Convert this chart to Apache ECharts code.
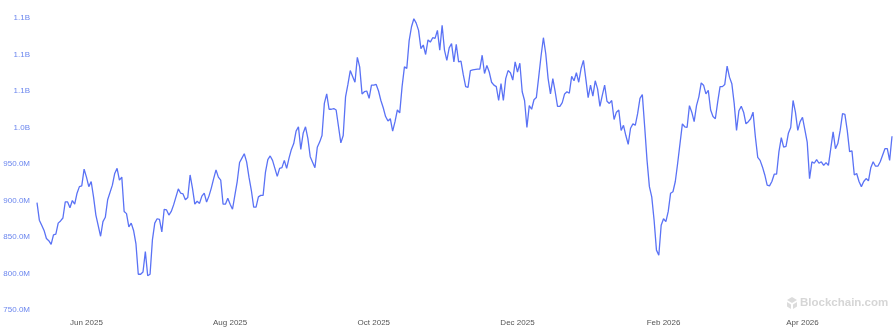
<!DOCTYPE html>
<html>
<head>
<meta charset="utf-8">
<script src="https://cdn.jsdelivr.net/npm/echarts@6/dist/echarts.min.js"></script>
<style>
html,body{margin:0;padding:0;background:#fff;}
#chart{width:896px;height:329px;}
</style>
</head>
<body>
<div id="chart"></div>
<script>
// Day offsets from the start date, and values in millions
const startDate = '2025-05-11';
const days = [0,1,2,3,4,5,6,7,8,9,10,11,12,13,14,15,16,17,18,19,20,21,22,23,24,25,27,28,29,30,32,33,34,35,36,37,38,39,40,41,42,43,44,45,46,47,48,49,50,51,52,53,54,55,56,57,58,60,61,62,63,64,65,66,67,68,69,70,71,72,73,74,75,76,77,78,79,80,81,82,83,84,85,86,87,88,89,90,91,92,93,94,95,96,97,98,99,100,102,103,104,105,106,107,108,109,110,111,112,113,114,115,116,118,119,120,121,122,123,124,125,126,127,129,130,131,132,133,134,135,136,137,138,139,140,141,142,143,144,145,146,147,148,149,150,151,152,153,154,155,156,157,158,159,160,161,162,163,164,165,166,167,168,169,170,171,172,173,174,175,176,177,178,179,180,181,182,183,184,185,187,188,189,190,191,192,193,194,195,196,197,198,199,200,201,202,203,204,205,206,207,208,209,210,211,212,213,214,215,216,217,218,219,220,221,222,223,224,225,226,227,228,229,230,231,232,233,234,235,236,237,238,239,240,241,242,243,244,245,246,247,248,249,250,251,252,253,254,255,256,257,258,259,260,261,262,263,264,265,266,267,268,269,270,271,272,274,275,276,277,278,279,280,281,282,283,284,285,286,287,288,289,290,291,292,293,294,295,296,297,298,299,300,301,302,303,304,305,306,307,308,309,310,311,312,313,314,315,316,317,318,319,320,321,322,323,324,325,326,327,328,329,330,331,332,333,334,335,336,337,338,339,340,341,342,343,344,345,346,347,348,349,350,351,352,353,354,355,356,357,358,359,360,361,362,363];
const values = [897,873,866,859,848,845,840,853,854,869,872,876,898,898,890,900,895,910,919,920,943,932,919,926,905,880,851,871,877,901,921,937,944,928,932,885,882,864,869,859,841,799,799,802,830,797,799,846,869,875,874,857,888,887,880,885,894,916,910,909,901,904,935,917,895,899,896,906,910,898,906,917,930,942,932,928,895,895,903,895,888,907,926,952,958,964,953,932,914,891,891,905,907,907,939,956,961,955,933,944,945,955,944,958,970,978,995,1001,970,992,1001,985,960,945,973,980,989,1033,1046,1025,1025,1026,1024,979,989,1042,1059,1078,1070,1062,1096,1083,1046,1049,1050,1040,1058,1058,1059,1050,1037,1027,1015,1009,1012,995,1008,1024,1020,1056,1083,1081,1119,1138,1149,1143,1133,1108,1113,1100,1120,1117,1123,1122,1133,1106,1140,1106,1092,1109,1115,1090,1114,1090,1091,1072,1056,1055,1078,1079,1080,1080,1099,1074,1085,1076,1062,1058,1056,1037,1060,1037,1067,1078,1075,1065,1090,1076,1088,1049,1037,1000,1030,1025,1038,1041,1069,1098,1123,1101,1067,1046,1067,1049,1029,1029,1034,1046,1049,1047,1070,1064,1075,1062,1081,1092,1067,1041,1058,1043,1064,1053,1029,1044,1058,1036,1033,1037,1011,1021,1024,996,1003,989,977,999,1005,1003,1019,1040,1045,1001,955,919,905,873,832,825,866,875,871,885,910,912,926,951,1005,1001,1000,1030,1021,1008,1030,1042,1061,1058,1046,1051,1024,1015,1012,1035,1056,1056,1059,1084,1069,1060,1033,996,1023,1029,1021,1005,1008,1012,1021,987,959,955,946,935,921,920,926,936,936,967,986,973,974,992,1000,1037,1021,996,1008,1014,997,980,930,953,951,956,951,953,948,952,948,971,994,971,978,996,1019,1018,996,967,968,935,937,926,919,926,930,927,945,953,947,947,953,962,971,971,955,988];
const tickDates = ['2025-06-01','2025-08-01','2025-10-01','2025-12-01','2026-02-01','2026-04-01'];
const tickLabels = ['Jun 2025','Aug 2025','Oct 2025','Dec 2025','Feb 2026','Apr 2026'];
const endDay = 363;

const DAY = 86400000;
const t0 = Date.parse(startDate + 'T00:00:00Z');
const seriesData = days.map((d, i) => [t0 + d * DAY, values[i]]);
const tickTimes = tickDates.map(s => Date.parse(s + 'T00:00:00Z'));
const labelMap = {};
tickTimes.forEach((t, i) => { labelMap[t] = tickLabels[i]; });

const chart = echarts.init(document.getElementById('chart'), null, {renderer: 'canvas'});
chart.setOption({
  animation: false,
  backgroundColor: '#ffffff',
  grid: {left: 37, right: 4, top: 18, bottom: 19, containLabel: false, outerBoundsMode: 'none'},
  xAxis: {
    type: 'value',
    min: t0,
    max: t0 + endDay * DAY,
    axisLine: {show: false},
    axisTick: {show: false},
    splitLine: {show: false},
    axisLabel: {
      customValues: tickTimes,
      formatter: function (v) { return labelMap[v] || ''; },
      color: '#555555',
      fontFamily: 'Liberation Sans, Arial, sans-serif',
      fontSize: 8,
      margin: 9,
      showMinLabel: true,
      showMaxLabel: true
    }
  },
  yAxis: {
    type: 'value',
    min: 750,
    max: 1150,
    interval: 50,
    axisLine: {show: false},
    axisTick: {show: false},
    splitLine: {show: false},
    axisLabel: {
      color: '#6b86ee',
      fontFamily: 'Liberation Sans, Arial, sans-serif',
      fontSize: 8,
      margin: 7,
      formatter: function (v) {
        return v >= 1000 ? (v / 1000).toFixed(1) + 'B' : v.toFixed(1) + 'M';
      }
    }
  },
  series: [{
    type: 'line',
    data: seriesData,
    showSymbol: false,
    symbol: 'none',
    clip: false,
    lineStyle: {color: '#5a72f5', width: 1.3},
    itemStyle: {color: '#5a72f5'}
  }],
  graphic: [
    {
      type: 'polygon',
      left: 787, top: 297,
      shape: {points: [[5,0],[10,3],[5,6],[0,3]]},
      style: {fill: '#dcdcdc'}
    },
    {
      type: 'polygon',
      left: 787, top: 302,
      shape: {points: [[0,0],[4,2.5],[4,7],[0,4.5]]},
      style: {fill: '#dcdcdc'}
    },
    {
      type: 'polygon',
      left: 793, top: 302,
      shape: {points: [[4,0],[0,2.5],[0,7],[4,4.5]]},
      style: {fill: '#dcdcdc'}
    },
    {
      type: 'text',
      left: 800, top: 297,
      style: {
        text: 'Blockchain.com',
        fill: '#d6d6d6',
        font: 'bold 11.5px "Liberation Sans", Arial, sans-serif'
      }
    }
  ]
});
</script>
</body>
</html>
